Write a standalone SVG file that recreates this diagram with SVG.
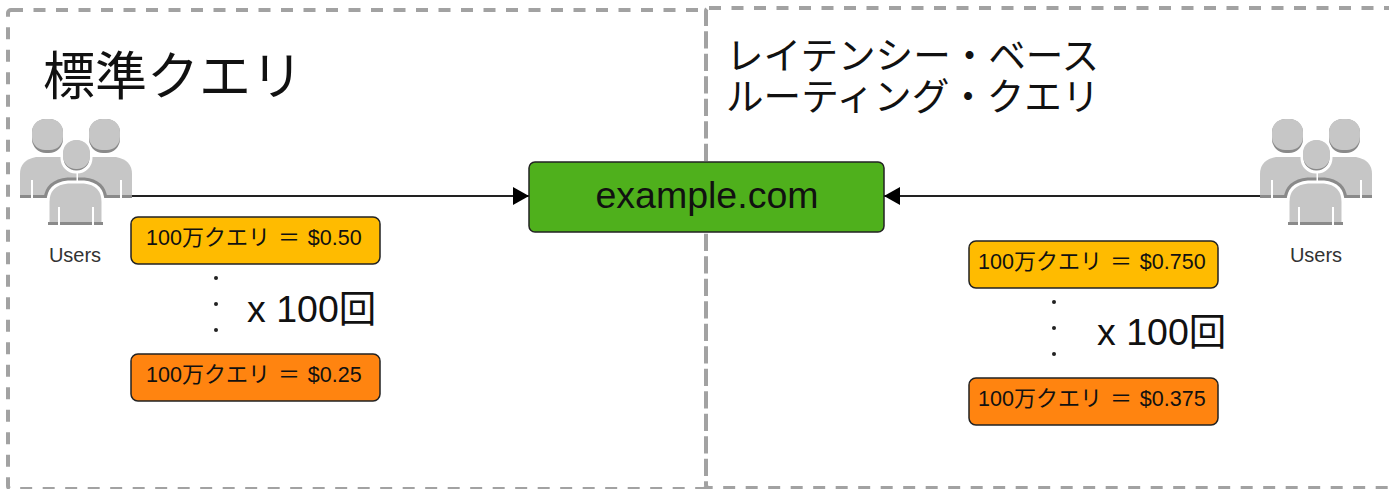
<svg xmlns="http://www.w3.org/2000/svg" width="1389" height="489" viewBox="0 0 1389 489">
<style>
text{font-family:"Liberation Sans","Noto Sans CJK JP",sans-serif;fill:#111}
.frame{fill:none;stroke:#a2a2a2;stroke-width:4;stroke-dasharray:12 10.5}
.box{stroke:#222;stroke-width:1.5}
.y{fill:#ffbb00}.o{fill:#ff8410}
.q{font-size:21.500px;word-spacing:2px}
.j{font-size:22px}
.u{font-size:20px;text-anchor:middle;fill:#333}
.t{font-size:37.500px}
.g{fill:#c6c6c6}
.d{fill:#8a8a8a}
.w{fill:#fff}
.dot{fill:#222}
.c{stroke:#222;stroke-width:1.8;fill:none;marker-end:url(#a)}
</style>
<defs>
<marker id="a" markerUnits="userSpaceOnUse" markerWidth="18" markerHeight="20" refX="17" refY="10" orient="auto"><path d="M1 1L17 10L1 19Z" fill="#000"/></marker>
<clipPath id="rear"><rect x="20" y="150" width="112" height="48"/></clipPath>
<g id="users">
<rect class="d" x="32" y="119" width="31" height="34" rx="14"/><rect class="g" x="32" y="119" width="31" height="31" rx="13"/>
<rect class="d" x="89" y="119" width="31" height="34" rx="14"/><rect class="g" x="89" y="119" width="31" height="31" rx="13"/>
<path class="g" d="M20 198V174Q20 160 36 157H116Q132 160 132 174V198Z"/>
<rect class="d" x="20" y="195" width="112" height="3"/>
<rect class="w" x="31" y="180" width="2" height="18"/><rect class="w" x="120" y="180" width="2" height="18"/>
<path clip-path="url(#rear)" d="M48 225V202Q48 184 68 182H84Q103 184 103 202V225Z" fill="none" stroke="#8a8a8a" stroke-width="9"/>
<rect class="w" x="76.500" y="170" width="1.500" height="14"/>
<path d="M48 225V202Q48 184 68 182H84Q103 184 103 202V225Z" class="g" stroke="#fff" stroke-width="3"/>
<rect class="d" x="48" y="222" width="55" height="3"/>
<rect class="w" x="58" y="207" width="2" height="18"/><rect class="w" x="92" y="207" width="2" height="18"/>
<rect class="d" x="62" y="139" width="29" height="33" rx="14" stroke="#fff" stroke-width="3"/><rect class="g" x="63" y="140" width="27" height="29" rx="13"/>
</g>
</defs>
<g id="frames">
<rect class="frame" x="8" y="10" width="698" height="479" rx="3"/>
<rect class="frame" x="706" y="8" width="700" height="480" rx="3"/>
</g>
<g id="connectors">
<path class="c" d="M132 196H529"/>
<path class="c" d="M1262 196H884"/>
</g>
<g id="users-left">
<use href="#users"/>
<text class="u" x="75" y="262">Users</text>
</g>
<g id="users-right">
<use href="#users" x="1240"/>
<text class="u" x="1316" y="262">Users</text>
</g>
<g id="example"><rect class="box" x="529" y="162" width="355" height="70" rx="6" fill="#4fb01c"/><text x="707" y="208" font-size="37.500" text-anchor="middle">example.com</text></g>
<g id="q1"><rect class="box y" x="131" y="217" width="249" height="47" rx="7"/><text class="q" x="146" y="245">100<tspan class="j">万クエリ</tspan> <tspan class="j">＝</tspan> $0.50</text></g>
<g id="q2"><rect class="box o" x="131" y="354" width="249" height="47" rx="7"/><text class="q" x="146" y="382">100<tspan class="j">万クエリ</tspan> <tspan class="j">＝</tspan> $0.25</text></g>
<g id="q3"><rect class="box y" x="969" y="241" width="249" height="47" rx="7"/><text class="q" x="978" y="269">100<tspan class="j">万クエリ</tspan> <tspan class="j">＝</tspan> $0.750</text></g>
<g id="q4"><rect class="box o" x="969" y="378" width="249" height="47" rx="7"/><text class="q" x="978" y="406">100<tspan class="j">万クエリ</tspan> <tspan class="j">＝</tspan> $0.375</text></g>
<g id="mult-left"><text class="t" x="247" y="322">x 100回</text><circle class="dot" cx="216" cy="278" r="2"/><circle class="dot" cx="216" cy="304" r="2"/><circle class="dot" cx="216" cy="330" r="2"/></g>
<g id="mult-right"><text class="t" x="1097" y="345">x 100回</text><circle class="dot" cx="1054" cy="302" r="2"/><circle class="dot" cx="1054" cy="328" r="2"/><circle class="dot" cx="1054" cy="354" r="2"/></g>
<g id="titles">
<text x="43" y="95" font-size="52">標準クエリ</text>
<text x="726" y="69" font-size="37.600">レイテンシー・ベース</text>
<text x="726" y="110" font-size="37.600">ルーティング・クエリ</text>
</g>
</svg>
